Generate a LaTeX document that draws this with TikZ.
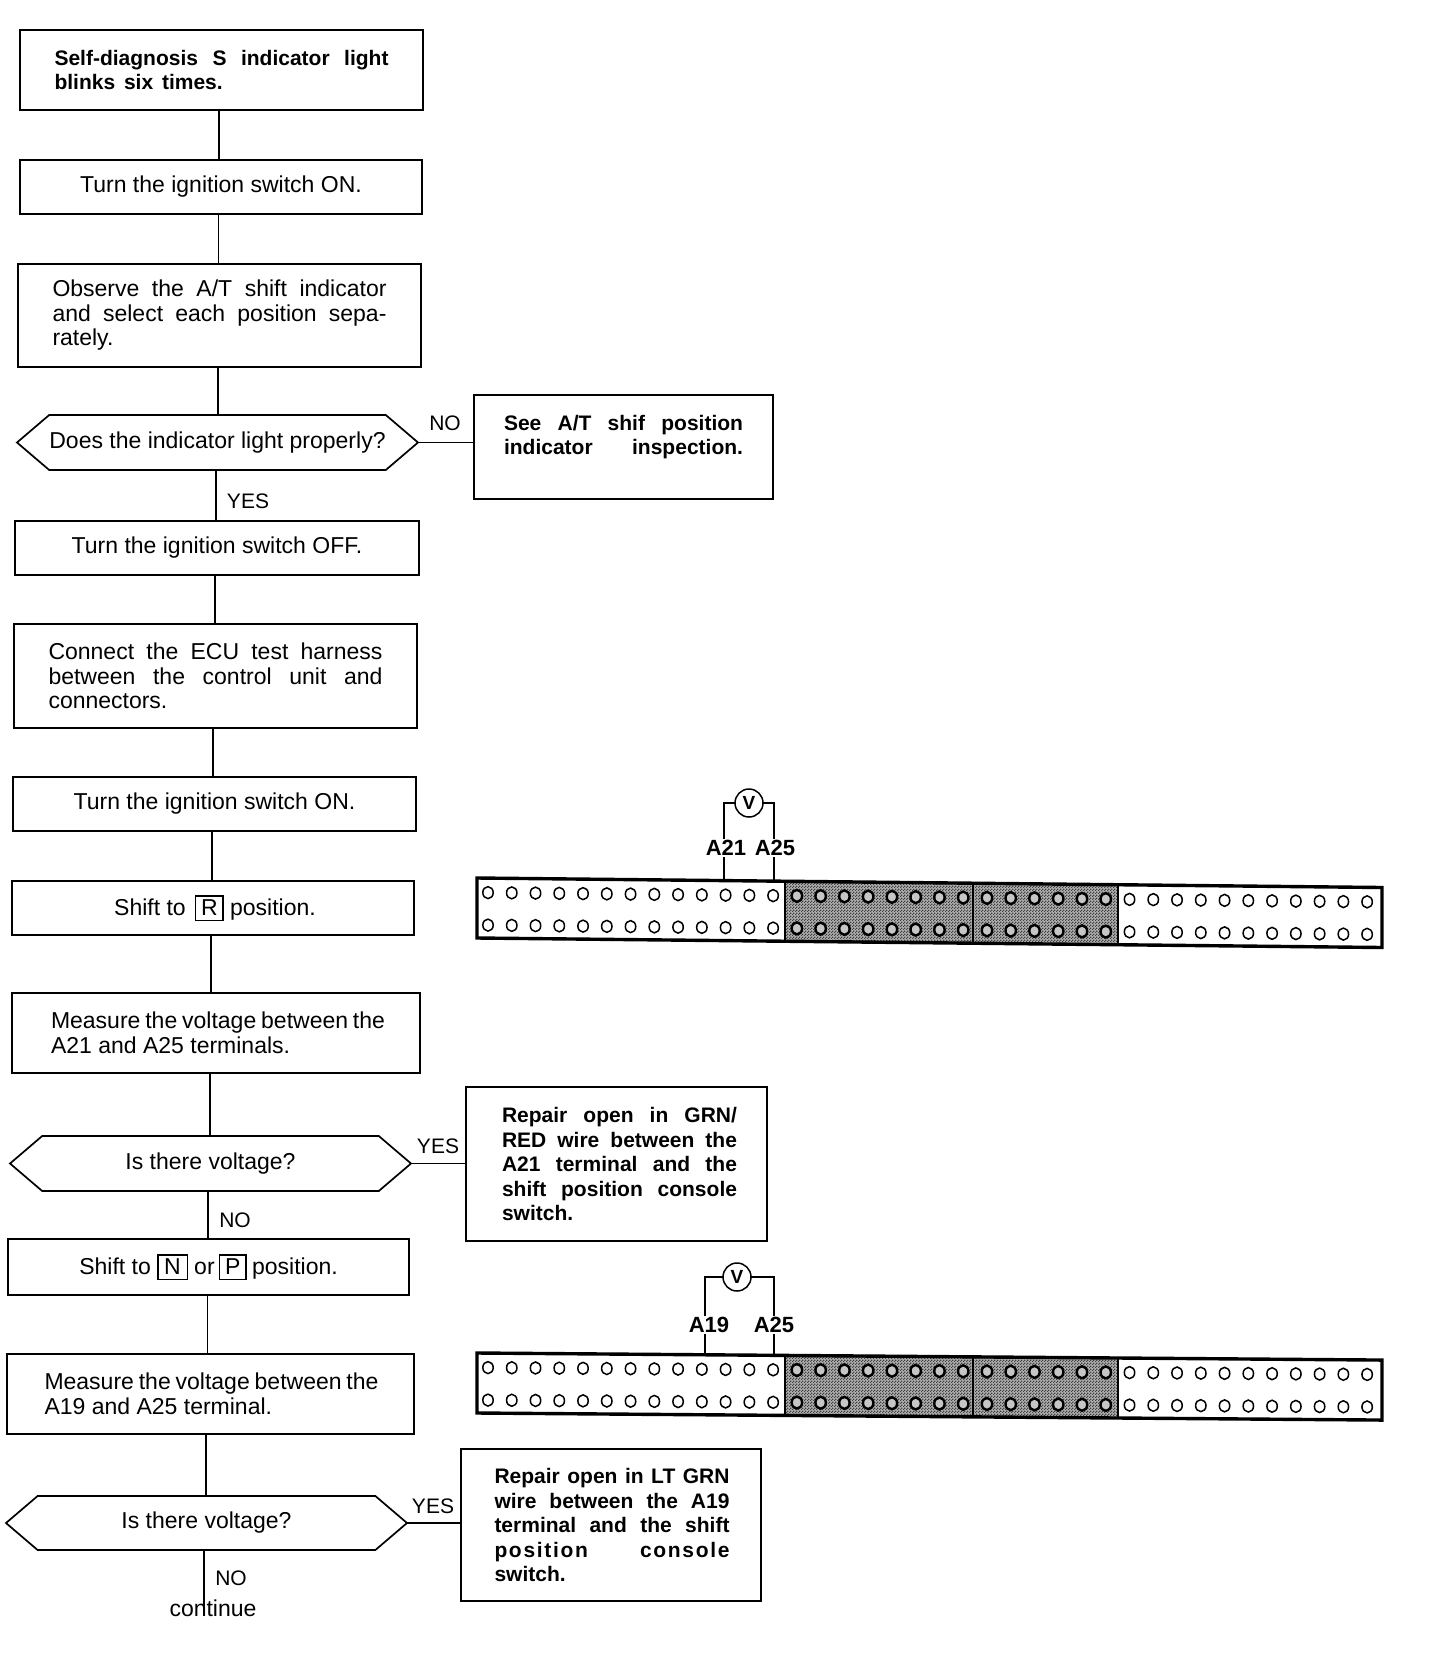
\documentclass[tikz,border=0pt]{standalone}
\usepackage{fontspec}
\setmainfont{Liberation Sans}
\usetikzlibrary{shapes.symbols,patterns}
\pgfdeclarepatternformonly{dither}{\pgfqpoint{0pt}{0pt}}{\pgfqpoint{3pt}{3pt}}{\pgfqpoint{3pt}{3pt}}{%
  \pgfpathrectangle{\pgfqpoint{0pt}{0pt}}{\pgfqpoint{1.5pt}{1.5pt}}%
  \pgfpathrectangle{\pgfqpoint{1.5pt}{1.5pt}}{\pgfqpoint{1.5pt}{1.5pt}}%
  \pgfusepath{fill}}
\newcommand\keyltr[2][25pt]{{\setlength\fboxsep{0pt}\setlength\fboxrule{1.3pt}\fbox{\makebox[#1]{\rule[-4pt]{0pt}{23pt}#2}}}}
\newcommand\justsetup{\hyphenpenalty=10000\relax\tolerance=10000\relax\hbadness=10000\relax}
\newcommand\connstrip[3]{%
  \begin{scope}[shift={(#1,#2)},yslant=#3]
    \fill[white] (0,0) rectangle (905,60);
    \fill[gray!62] (308,0) rectangle (640.5,60);
    \fill[pattern=dither,pattern color=black!75] (308,0) rectangle (640.5,60);
    \foreach \i in {0,...,12,27,28,...,37} {
      \draw[hole] ({11+23.76*\i},14.5) ellipse [x radius=5.2,y radius=6];
      \draw[hole] ({11+23.76*\i},47) ellipse [x radius=5.2,y radius=6];
    }
    \foreach \i in {13,...,26} {
      \draw[holedark] ({11+23.76*\i},14.5) ellipse [x radius=5.2,y radius=6];
      \draw[holedark] ({11+23.76*\i},47) ellipse [x radius=5.2,y radius=6];
    }
    \draw[line width=2pt] (308,0) -- (308,60);
    \draw[line width=2pt] (495.5,0) -- (495.5,60);
    \draw[line width=2pt] (640.5,0) -- (640.5,60);
    \draw[line width=3.4pt] (0,0) rectangle (905,60);
  \end{scope}}
\tikzset{
  hole/.style={line width=1.5pt,fill=white},
  holedark/.style={line width=2.4pt,fill=gray!45},
  flowbox/.style={draw,line width=1.7pt,inner sep=0pt,outer sep=0pt,align=justify,
    font=\fontsize{23pt}{24.5pt}\selectfont,execute at begin node=\justsetup},
  textbox/.style={flowbox,text width=334pt},
  plainbox/.style={draw,line width=1.7pt,inner sep=0pt,outer sep=0pt,align=center,
    font=\fontsize{23pt}{24.5pt}\selectfont},
  boldbox/.style={flowbox,text width=235pt,
    font=\bfseries\fontsize{21pt}{24.5pt}\selectfont},
  hexa/.style={draw,line width=1.7pt,inner sep=0pt,outer sep=0pt,signal,signal to=west and east,
    signal pointer angle=81,
    font=\fontsize{23pt}{24.5pt}\selectfont},
  link/.style={line width=1.8pt},
  answer/.style={inner sep=0pt,font=\fontsize{21pt}{24pt}\selectfont},
  pinlabel/.style={fill=white,inner sep=1.5pt,font=\bfseries\fontsize{22pt}{24pt}\selectfont},
  meter/.style={draw,circle,line width=1.5pt,minimum size=28pt,inner sep=0pt,outer sep=0pt,fill=white,
    font=\bfseries\fontsize{19pt}{22pt}\selectfont},
  wire/.style={line width=1.8pt}
}
\begin{document}
\begin{tikzpicture}[x=1pt,y=-1pt]
\path[fill=white,use as bounding box] (0,0) rectangle (1440,1662);

% flow column
\node[boldbox,text width=334pt,minimum width=403pt,minimum height=80pt] (b1) at (221.5,70)
  {Self-diagnosis S indicator light\linebreak blinks\hspace{3pt} six\hspace{3pt} times.};
\node[plainbox,minimum width=402pt,minimum height=54pt] (b2) at (221,187) {Turn the ignition switch ON.};
\node[textbox,minimum width=403pt,minimum height=103pt] (b3) at (219.5,315.5)
  {Observe the A/T shift indicator\linebreak and select each position sepa-\linebreak rately.};
\node[hexa,minimum width=401pt,minimum height=55pt] (d1) at (217.5,442.5) {Does the indicator light properly?};
\node[boldbox,text width=239pt,minimum width=299pt,minimum height=104pt] (n1) at (623.5,447)
  {\leftskip=4pt See A/T shif position\linebreak indicator inspection.\linebreak\null};
\node[plainbox,minimum width=404pt,minimum height=54pt] (b4) at (217,548) {Turn the ignition switch OFF.};
\node[textbox,minimum width=403pt,minimum height=104pt] (b5) at (215.5,676)
  {Connect the ECU test harness\linebreak between the control unit and\linebreak connectors.\par\vspace{2pt}};
\node[plainbox,minimum width=403pt,minimum height=54pt] (b6) at (214.5,804) {Turn the ignition switch ON.};
\node[plainbox,minimum width=402pt,minimum height=54pt] (b7) at (213,908) {\hspace*{4pt}Shift to\hspace{3pt} \keyltr[26pt]{R} position.};
\node[textbox,text width=338pt,minimum width=408pt,minimum height=80pt] (b8) at (216,1033)
  {\leftskip=4pt Measure the voltage between the\linebreak A21 and A25 terminals.\par\vspace{2pt}};
\node[hexa,minimum width=401pt,minimum height=55pt] (d2) at (210.5,1163.5) {Is there voltage?};
\node[boldbox,text width=241pt,minimum width=301pt,minimum height=154pt] (n2) at (616.5,1164)
  {\leftskip=6pt Repair open in GRN/\linebreak RED wire between the\linebreak A21 terminal and the\linebreak shift position console\linebreak switch.\par\vspace{5pt}};
\node[plainbox,minimum width=401pt,minimum height=56pt] (b9) at (208.5,1267) {Shift to \keyltr[28pt]{N} or\hspace{-2pt} \keyltr[25pt]{P}\hspace{-1pt} position.};
\node[textbox,text width=336pt,minimum width=407pt,minimum height=80pt] (b10) at (210.5,1394)
  {\leftskip=2pt Measure the voltage between the\linebreak A19 and A25 terminal.\par\vspace{4pt}};
\node[hexa,minimum width=401pt,minimum height=54pt] (d3) at (206.5,1523) {Is there voltage?};
\node[boldbox,text width=237pt,minimum width=300pt,minimum height=152pt] (n3) at (611,1525)
  {\leftskip=2pt Repair open in LT GRN\linebreak wire between the A19\linebreak terminal and the shift\linebreak {\addfontfeature{LetterSpace=8}position console}\linebreak switch.\par\vspace{4pt}};

% connectors
\draw[link] ([xshift=-2.5pt]b1.south) -- ([xshift=-2pt]b2.north);
\draw[link] ([xshift=-2.5pt]b2.south) -- ([xshift=-1pt]b3.north);
\draw[link] ([xshift=-1.5pt]b3.south) -- ([xshift=.5pt]d1.north);
\draw[link] ([xshift=-1.5pt]d1.south) -- ([xshift=-1pt]b4.north);
\draw[link] ([xshift=-2pt]b4.south) -- ([xshift=-.5pt]b5.north);
\draw[link] ([xshift=-2.5pt]b5.south) -- ([xshift=-1.5pt]b6.north);
\draw[link] ([xshift=-2.5pt]b6.south) -- ([xshift=-1pt]b7.north);
\draw[link] ([xshift=-2pt]b7.south) -- ([xshift=-5pt]b8.north);
\draw[link] ([xshift=-6pt]b8.south) -- ([xshift=-.5pt]d2.north);
\draw[link] ([xshift=-2.5pt]d2.south) -- ([xshift=-.5pt]b9.north);
\draw[link] ([xshift=-1pt]b9.south) -- ([xshift=-3pt]b10.north);
\draw[link] ([xshift=-4.5pt]b10.south) -- ([xshift=-.5pt]d3.north);
\coordinate (endflow) at (204,1616);
\draw[link] ([xshift=-2.5pt]d3.south) -- (endflow);
\draw[link] (d1.east) -- (d1.east -| n1.west);
\draw[link] (d2.east) -- (d2.east -| n2.west);
\draw[link] (d3.east) -- (d3.east -| n3.west);

% answers
\node[answer] (a1) at (445,423) {NO};
\node[answer] (a2) at (248,501) {YES};
\node[answer] (a3) at (438,1146) {YES};
\node[answer] (a4) at (235,1220) {NO};
\node[answer] (a5) at (433,1506) {YES};
\node[answer] (a6) at (231,1578) {NO};
\node[inner sep=0pt,font=\fontsize{23pt}{24pt}\selectfont] (cont) at (213,1608) {continue};

% connector strips
\connstrip{477}{878}{-0.0105}
\connstrip{477}{1353}{-0.0078}

% voltmeter 1
\coordinate (p21) at (724,881);
\coordinate (p25a) at (774,881.5);
\node[meter] (v1) at (749,803) {V};
\draw[wire] (v1.west) -| (p21);
\draw[wire] (v1.east) -| (p25a);
\node[pinlabel] (l21) at (726,848) {A21};
\node[pinlabel] (l25a) at (775,848) {A25};

% voltmeter 2
\coordinate (p19) at (705,1355);
\coordinate (p25b) at (774,1355.5);
\node[meter] (v2) at (737,1277) {V};
\draw[wire] (v2.west) -| (p19);
\draw[wire] (v2.east) -| (p25b);
\node[pinlabel] (l19) at (709,1325) {A19};
\node[pinlabel] (l25b) at (774,1325) {A25};
\end{tikzpicture}
\end{document}
